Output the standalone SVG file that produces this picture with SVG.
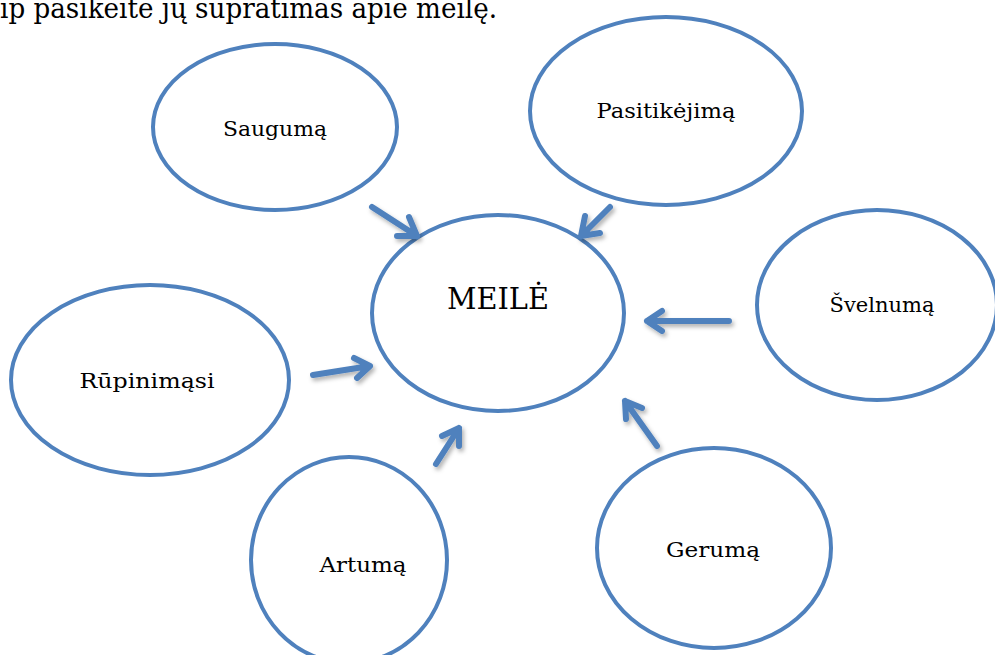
<svg xmlns="http://www.w3.org/2000/svg" width="995" height="655" viewBox="0 0 995 655">
<defs>
<style>
.e{fill:#fff;stroke:#4F81BD;stroke-width:4}
.t{font-family:"DejaVu Serif","Liberation Serif",serif;font-size:21px;fill:#000;text-anchor:middle}
.a{fill:none;stroke:#4F81BD;stroke-width:6;stroke-linecap:round;stroke-linejoin:round}
</style>
<filter id="sh" x="-50%" y="-50%" width="200%" height="200%"><feDropShadow dx="2" dy="3" stdDeviation="2" flood-color="#000" flood-opacity="0.3"/></filter>
</defs>
<rect width="995" height="655" fill="#fff"/>
<text x="0" y="18" style="font-family:'DejaVu Serif','Liberation Serif',serif;font-size:27px;fill:#000" textLength="497" lengthAdjust="spacingAndGlyphs">ip pasikeitė jų supratimas apie meilę.</text>
<g id="saugumas"><ellipse class="e" cx="275" cy="127" rx="122" ry="83"/><text class="t" x="275" y="136" textLength="104" lengthAdjust="spacingAndGlyphs">Saugumą</text></g>
<g id="pasitikejimas"><ellipse class="e" cx="666" cy="111" rx="136" ry="94"/><text class="t" x="666" y="118" textLength="139" lengthAdjust="spacingAndGlyphs">Pasitikėjimą</text></g>
<g id="meile"><ellipse class="e" cx="498" cy="313" rx="126" ry="98"/><text class="t" x="498" y="309" style="font-size:30px" textLength="102" lengthAdjust="spacingAndGlyphs">MEILĖ</text></g>
<g id="svelnumas"><ellipse class="e" cx="877" cy="305" rx="120" ry="95"/><text class="t" x="882" y="312" textLength="105" lengthAdjust="spacingAndGlyphs">Švelnumą</text></g>
<g id="rupinimasi"><ellipse class="e" cx="150" cy="380" rx="139" ry="95"/><text class="t" x="147" y="388" textLength="135" lengthAdjust="spacingAndGlyphs">Rūpinimąsi</text></g>
<g id="artumas"><ellipse class="e" cx="349" cy="560" rx="98" ry="103"/><text class="t" x="363" y="572" textLength="87" lengthAdjust="spacingAndGlyphs">Artumą</text></g>
<g id="gerumas"><ellipse class="e" cx="714" cy="548" rx="117" ry="100"/><text class="t" x="713" y="557" textLength="94" lengthAdjust="spacingAndGlyphs">Gerumą</text></g>
<g id="connectors" filter="url(#sh)">
<path class="a" d="M372,207 L417,236 M397,236 L417,236 L409,217"/>
<path class="a" d="M610,207 L581,236 M585,216 L581,236 L600,233"/>
<path class="a" d="M729,321 L647,321 M662,311 L647,321 L662,331"/>
<path class="a" d="M313,375 L370,366 M354,358 L370,366 L357,378"/>
<path class="a" d="M436,464 L459,428 M442,436 L459,428 L459,446"/>
<path class="a" d="M657,446 L625,401 M626,419 L625,401 L642,408"/>
</g>
</svg>
